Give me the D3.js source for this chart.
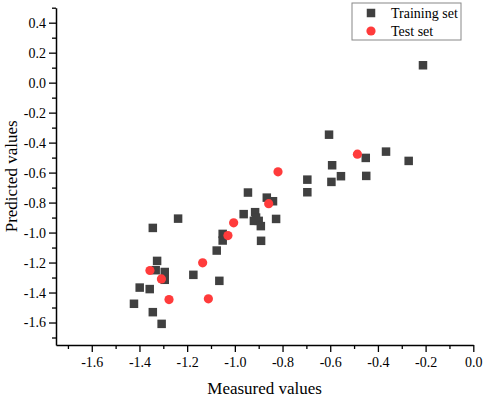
<!DOCTYPE html>
<html>
<head>
<meta charset="utf-8">
<script src="https://cdn.jsdelivr.net/npm/d3@7"></script>
<style>
  html, body { margin: 0; padding: 0; background: #fff; }
  svg { display: block; }
  text { font-family: "Liberation Serif", "Times New Roman", serif; }
</style>
</head>
<body>
<svg id="chart" width="484" height="397"></svg>
<script>
const trainX = [-1.238, -1.344, -1.326, -1.332, -1.294, -1.294, -1.174, -1.076, -1.065, -1.399,
                -1.357, -1.423, -1.344, -1.307, -0.696, -0.696, -0.945, -0.866, -0.840, -0.963,
                -0.915, -0.911, -0.920, -0.900, -0.891, -0.827, -0.890, -1.051, -1.051, -0.605,
                -0.451, -0.366, -0.271, -0.592, -0.555, -0.595, -0.449, -0.211];
const trainY = [-0.907, -0.969, -1.189, -1.251, -1.263, -1.315, -1.282, -1.120, -1.322, -1.367,
                -1.377, -1.475, -1.531, -1.609, -0.647, -0.731, -0.733, -0.767, -0.791, -0.877,
                -0.864, -0.900, -0.922, -0.922, -0.957, -0.909, -1.055, -1.009, -1.053, -0.347,
                -0.502, -0.460, -0.522, -0.551, -0.624, -0.662, -0.622, 0.116];
const testX = [-1.356, -1.308, -1.276, -1.135, -1.111, -0.819, -0.858, -1.005, -1.029, -0.486];
const testY = [-1.253, -1.309, -1.447, -1.202, -1.442, -0.595, -0.807, -0.935, -1.020, -0.477];

const xTicks = [-1.6, -1.4, -1.2, -1.0, -0.8, -0.6, -0.4, -0.2, 0.0];
const xMinor = [-1.7, -1.5, -1.3, -1.1, -0.9, -0.7, -0.5, -0.3, -0.1];
const yTicks = [0.4, 0.2, 0.0, -0.2, -0.4, -0.6, -0.8, -1.0, -1.2, -1.4, -1.6];
const yMinor = [0.5, 0.3, 0.1, -0.1, -0.3, -0.5, -0.7, -0.9, -1.1, -1.3, -1.5, -1.7];
const seriesNames = ["Training set", "Test set"];

const svg = d3.select("#chart");
const mLeft = 56, mRight = 473.3, mTop = 7.7, mBottom = 345;
const x = d3.scaleLinear().domain([-1.75, 0]).range([mLeft, mRight]);
const y = d3.scaleLinear().domain([-1.75, 0.5]).range([mBottom, mTop]);
const fmt = v => (Math.abs(v) < 1e-9 ? 0 : v).toFixed(1);

// axes
const gx = svg.append("g").attr("transform", `translate(0,${mBottom})`);
gx.call(d3.axisBottom(x).tickValues(xTicks).tickFormat(fmt).tickSize(7).tickPadding(5).tickSizeOuter(0));
const gxm = svg.append("g").attr("transform", `translate(0,${mBottom})`);
gxm.call(d3.axisBottom(x).tickValues(xMinor).tickFormat("").tickSize(4).tickSizeOuter(0));
gxm.select(".domain").remove();

const gy = svg.append("g").attr("transform", `translate(${mLeft},0)`);
gy.call(d3.axisLeft(y).tickValues(yTicks).tickFormat(fmt).tickSize(7).tickPadding(3).tickSizeOuter(0));
const gym = svg.append("g").attr("transform", `translate(${mLeft},0)`);
gym.call(d3.axisLeft(y).tickValues(yMinor).tickFormat("").tickSize(4).tickSizeOuter(0));
gym.select(".domain").remove();

svg.selectAll(".domain").attr("stroke", "#000").attr("stroke-width", 1.5);
svg.selectAll(".tick line").attr("stroke", "#000").attr("stroke-width", 1.3);
svg.selectAll(".tick text").attr("font-size", 14).attr("fill", "#000")
   .attr("font-family", "'Liberation Serif', 'Times New Roman', serif");

// axis titles
svg.append("text").attr("x", (mLeft + mRight) / 2).attr("y", 394)
  .attr("text-anchor", "middle").attr("font-size", 17).text("Measured values");
svg.append("text").attr("transform", `translate(17,${(mTop + mBottom) / 2}) rotate(-90)`)
  .attr("text-anchor", "middle").attr("font-size", 17).text("Predicted values");

// points
const sq = 8.5;
svg.append("g").selectAll("rect").data(trainX.map((d, i) => [d, trainY[i]])).join("rect")
  .attr("x", d => x(d[0]) - sq / 2).attr("y", d => y(d[1]) - sq / 2)
  .attr("width", sq).attr("height", sq).attr("fill", "#404040");
svg.append("g").selectAll("circle").data(testX.map((d, i) => [d, testY[i]])).join("circle")
  .attr("cx", d => x(d[0])).attr("cy", d => y(d[1])).attr("r", 4.6).attr("fill", "#ff3b3b");

// legend
const lg = svg.append("g");
lg.append("rect").attr("x", 352).attr("y", 3).attr("width", 109).attr("height", 37)
  .attr("fill", "#fff").attr("stroke", "#888").attr("stroke-width", 1);
lg.append("rect").attr("x", 371 - sq / 2).attr("y", 13 - sq / 2).attr("width", sq).attr("height", sq).attr("fill", "#404040");
lg.append("circle").attr("cx", 371).attr("cy", 31).attr("r", 4.6).attr("fill", "#ff3b3b");
lg.append("text").attr("x", 391).attr("y", 18).attr("font-size", 14).text(seriesNames[0]);
lg.append("text").attr("x", 391).attr("y", 36).attr("font-size", 14).text(seriesNames[1]);
</script>
</body>
</html>
